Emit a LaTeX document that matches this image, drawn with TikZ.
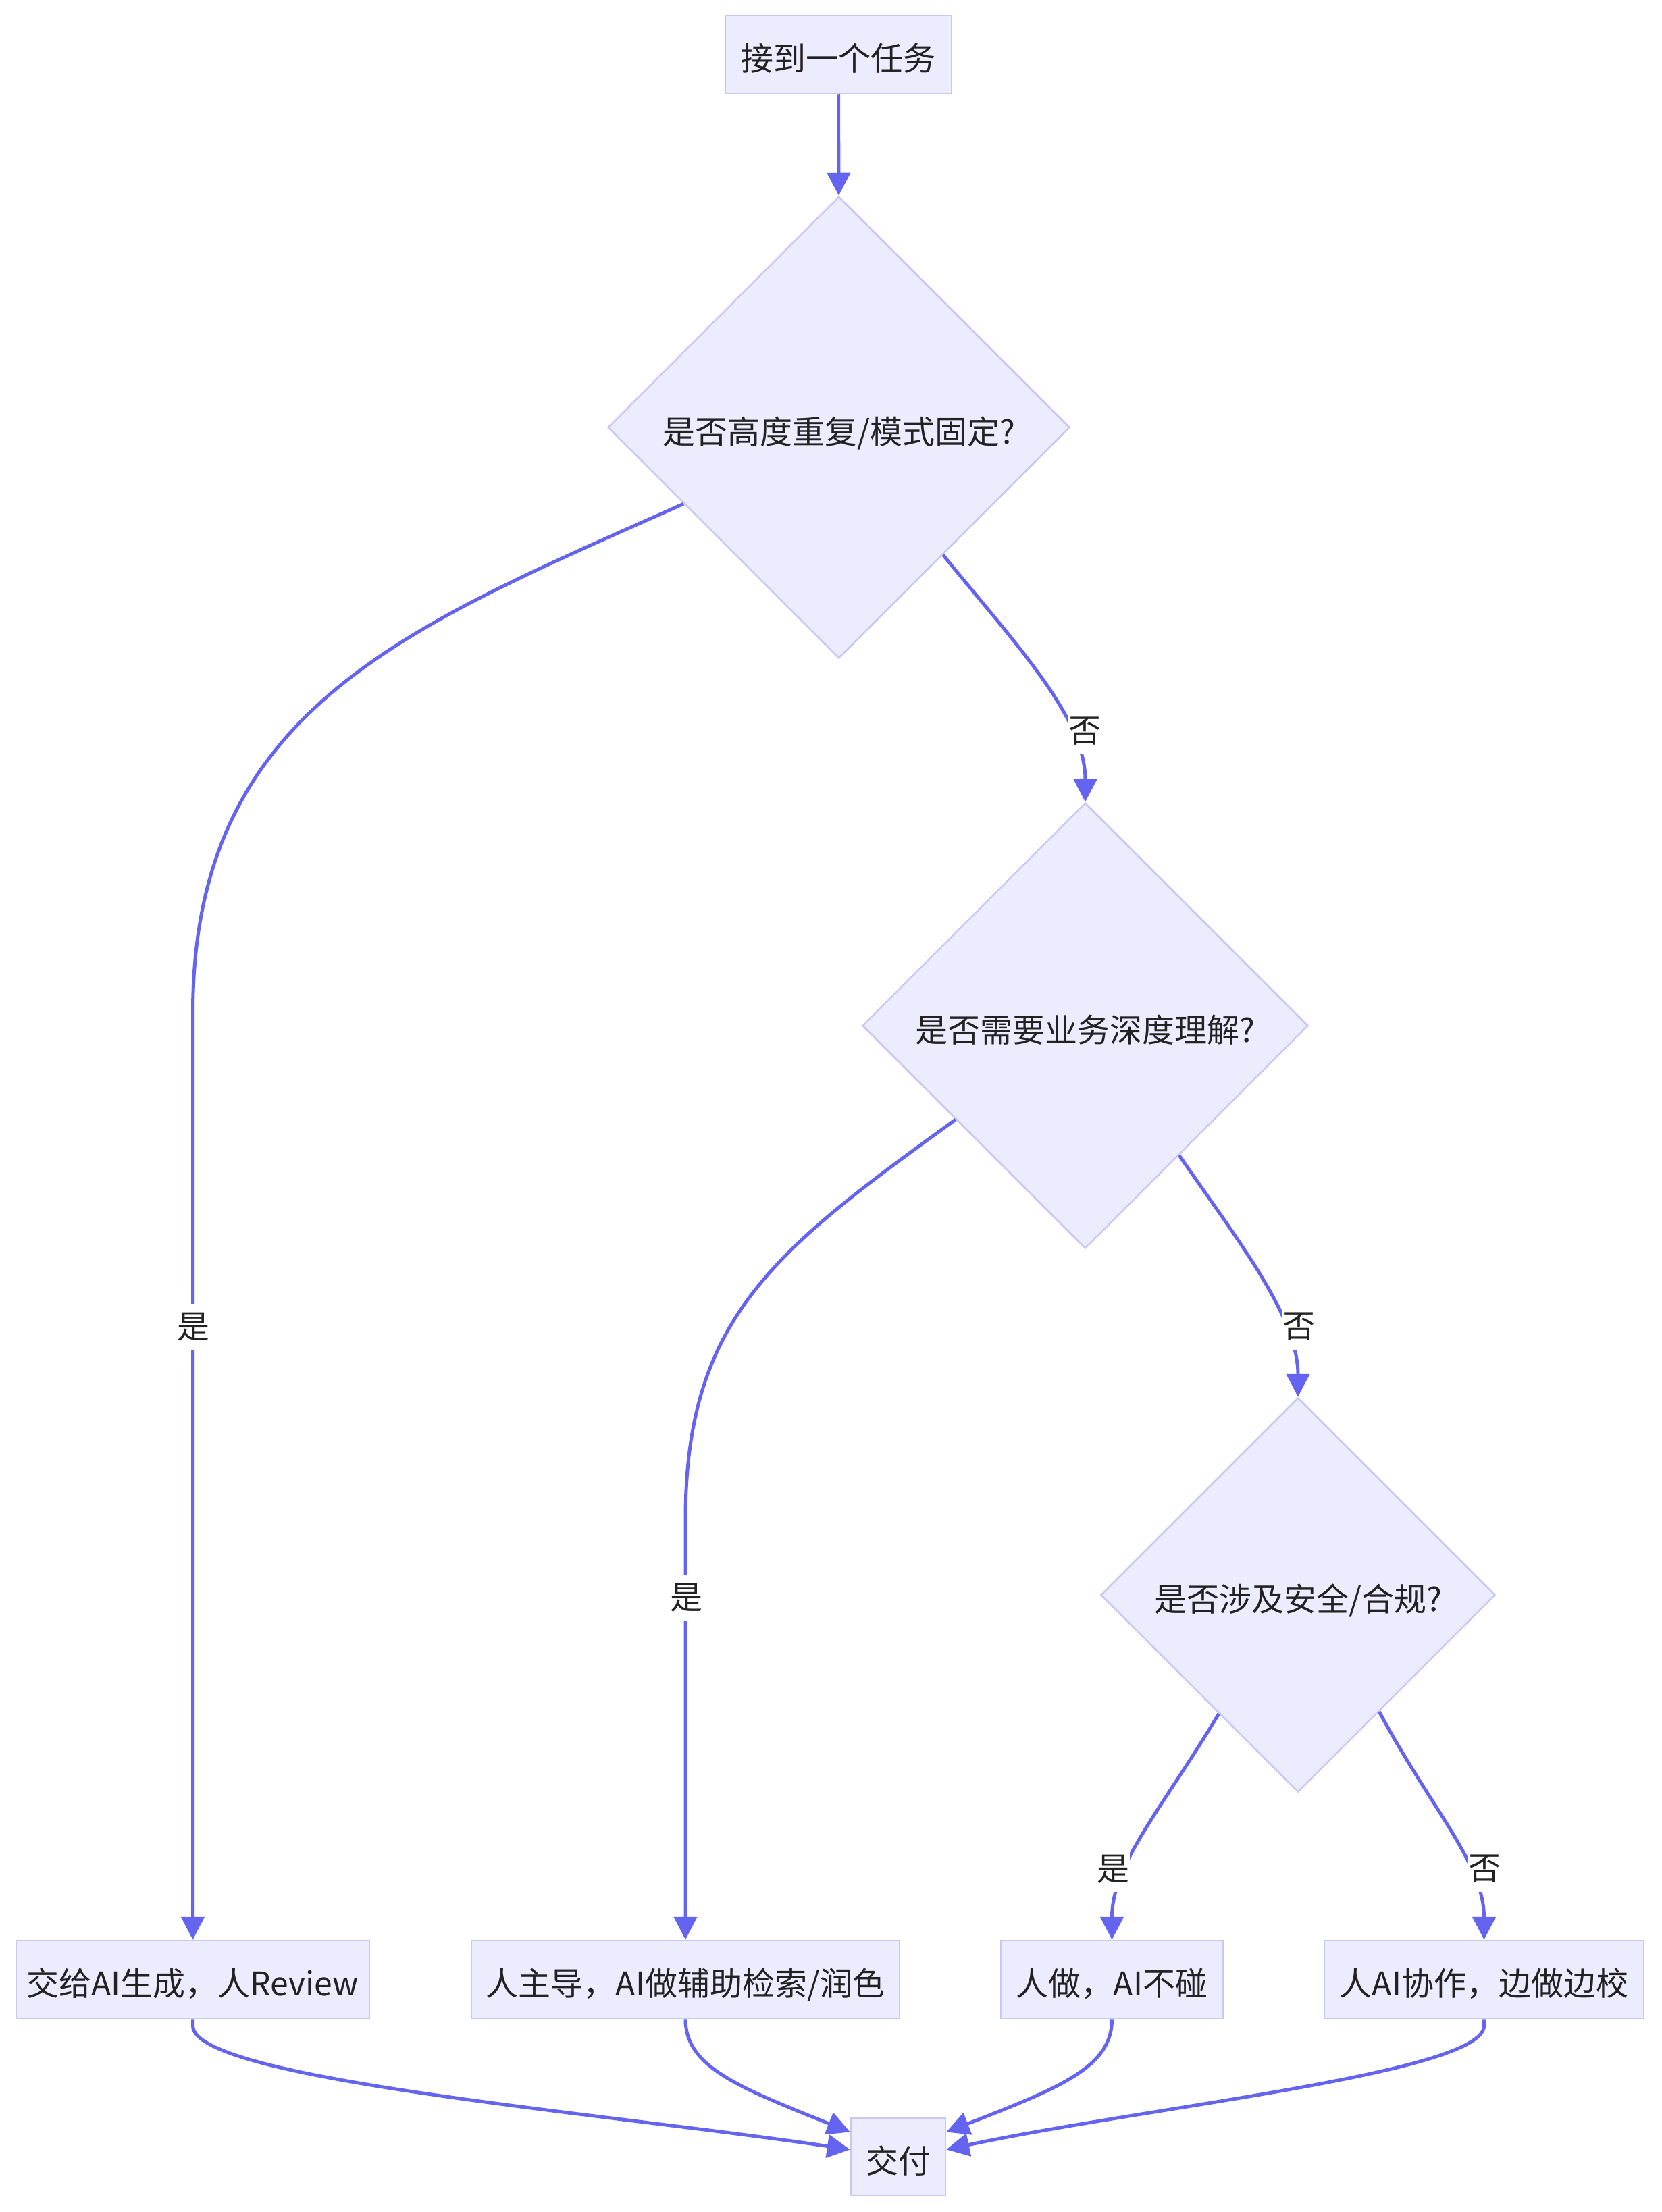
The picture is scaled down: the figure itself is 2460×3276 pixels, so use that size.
\documentclass[tikz,border=0pt]{standalone}
\usepackage{fontspec}
\newfontfamily\cjk{Noto Sans CJK SC}
\usetikzlibrary{shapes.geometric,arrows.meta,calc}
\definecolor{nodefill}{HTML}{ECECFF}
\definecolor{nodeline}{HTML}{C8C8F4}
\definecolor{edgecol}{HTML}{6464F0}
\definecolor{txt}{HTML}{222222}
\begin{document}
\begin{tikzpicture}[x=1pt,y=-1pt,
 base/.style={font=\cjk\fontsize{48pt}{58pt}\selectfont, text=txt},
 box/.style={base, draw=nodeline, fill=nodefill, line width=2.5pt, inner sep=0pt, minimum height=115pt, text height=48pt, text depth=0pt},
 dec/.style={base, diamond, draw=nodeline, fill=nodefill, line width=2.5pt, inner sep=0pt, aspect=1, text height=48pt, text depth=0pt},
 edge/.style={draw=edgecol, line width=5pt, -{Triangle[length=34pt,width=34pt]}},
 lbl/.style={base, fill=white, inner sep=0pt, minimum width=50pt, minimum height=68pt}]
\fill[white] (0,0) rectangle (2460,3276);
\useasboundingbox (0,0) rectangle (2460,3276);
% nodes
\node[box, minimum width=335pt] (start) at (1241.5,80.5) {接到一个任务};
\node[dec, minimum width=684pt, minimum height=684pt] (d1) at (1242,633) {是否高度重复/模式固定?};
\node[dec, minimum width=660pt, minimum height=660pt] (d2) at (1607,1519) {是否需要业务深度理解?};
\node[dec, minimum width=584pt, minimum height=584pt] (d3) at (1922,2362) {是否涉及安全/合规?};
\node[box, minimum width=523pt] (b1) at (285.5,2931.5) {交给AI生成，人Review};
\node[box, minimum width=634pt] (b2) at (1015,2931.5) {人主导，AI做辅助检索/润色};
\node[box, minimum width=329pt] (b3) at (1646.5,2931.5) {人做，AI不碰};
\node[box, minimum width=473pt] (b4) at (2197.5,2931.5) {人AI协作，边做边校};
\node[box, minimum width=140pt] (del) at (1330,3194.5) {交付};
% edges
\draw[edge] (start.south) -- (d1.north);
\draw[edge] ($(d1.west)!0.33!(d1.south)$) .. controls (600,930) and (285.5,1050) .. (285.5,1500) -- (b1.north);
\draw[edge] ($(d1.south)!0.45!(d1.east)$) .. controls (1500,950) and (1607,1060) .. (d2.north);
\draw[edge] ($(d2.west)!0.42!(d2.south)$) .. controls (1150,1850) and (1015,1950) .. (1015,2250) -- (b2.north);
\draw[edge] ($(d2.south)!0.42!(d2.east)$) .. controls (1835,1840) and (1922,1950) .. (d3.north);
\draw[edge] ($(d3.west)!0.6!(d3.south)$) .. controls (1720,2680) and (1646.5,2760) .. (b3.north);
\draw[edge] ($(d3.south)!0.41!(d3.east)$) .. controls (2120,2680) and (2197.5,2760) .. (b4.north);
\draw[edge] (b1.south) -- ++(0,10) .. controls (285.5,3080) and (900,3130) .. ($(del.west)+(0,-11)$);
\draw[edge] (b2.south) .. controls (1015,3060) and (1090,3090) .. ($(del.west)+(0,-37)$);
\draw[edge] (b3.south) .. controls (1646.5,3060) and (1575,3090) .. ($(del.east)+(0,-37)$);
\draw[edge] (b4.south) -- ++(0,10) .. controls (2197.5,3070) and (1700,3120) .. ($(del.east)+(0,-11)$);
% labels
\node[lbl] (l1) at (286,1965) {是};
\node[lbl] (l2) at (1606,1083) {否};
\node[lbl] (l3) at (1016,2366) {是};
\node[lbl] (l4) at (1923,1965) {否};
\node[lbl] (l5) at (1648,2768) {是};
\node[lbl] (l6) at (2198,2768) {否};
\end{tikzpicture}
\end{document}
